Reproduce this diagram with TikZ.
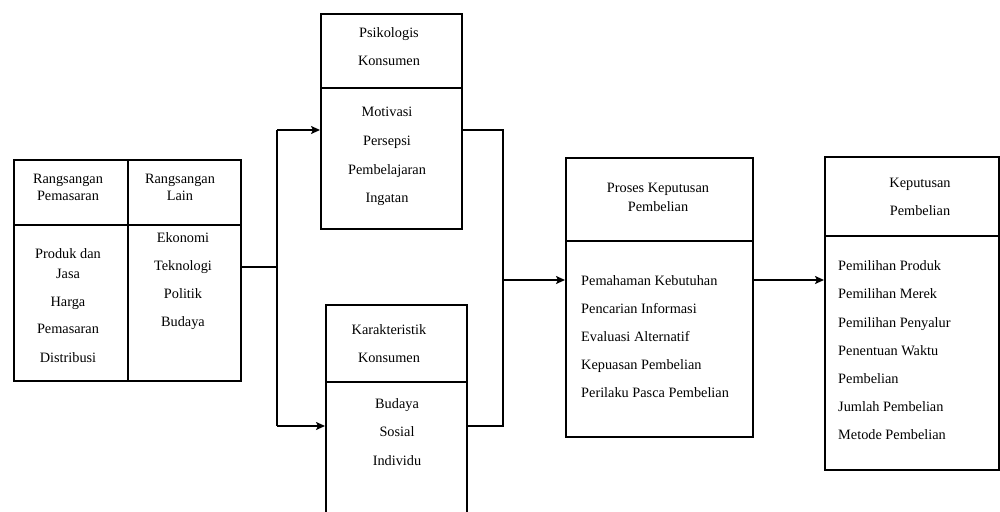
\documentclass[tikz,border=0pt]{standalone}
\usepackage{fontspec}
\setmainfont{Liberation Serif}
\usetikzlibrary{arrows.meta}
\begin{document}
\begin{tikzpicture}[x=1pt,y=-1pt,
  box/.style={draw,line width=1.7pt,anchor=north west,inner sep=0pt,minimum width=#1},
  lbl/.style={font=\fontsize{14.3}{17}\selectfont,align=center,inner sep=0pt},
  lst/.style={font=\fontsize{14.3}{17}\selectfont,align=left,anchor=west,inner sep=0pt},
  con/.style={line width=1.7pt},
  arr/.style={line width=1.7pt,-{Stealth[length=9pt,width=8pt,inset=2pt]}}]
\useasboundingbox (0,0) rectangle (1000,511);
\clip (0,0) rectangle (1000,511);
% boxes
\node[box=114pt,minimum height=65pt] (rpH) at (13,159) {};
\node[box=114pt,minimum height=156pt] (rpB) at (13,224) {};
\node[box=113pt,minimum height=65pt] (rlH) at (127,159) {};
\node[box=113pt,minimum height=156pt] (rlB) at (127,224) {};
\node[box=141pt,minimum height=74pt] (psH) at (320,13) {};
\node[box=141pt,minimum height=141pt] (psB) at (320,87) {};
\node[box=141pt,minimum height=77pt] (kkH) at (325,304) {};
\node[box=141pt,minimum height=150pt] (kkB) at (325,381) {};
\node[box=187pt,minimum height=83pt] (pkH) at (565,157) {};
\node[box=187pt,minimum height=196pt] (pkB) at (565,240) {};
\node[box=174pt,minimum height=79pt] (kpH) at (824,156) {};
\node[box=174pt,minimum height=234pt] (kpB) at (824,235) {};
% texts
\node[lbl] (t1) at (68,187) {Rangsangan\\Pemasaran};
\node[lbl] (t2) at (180,187) {Rangsangan\\Lain};
\node[lbl] (t3) at (68,306) {Produk dan\\[3pt]Jasa\\[11pt]Harga\\[10pt]Pemasaran\\[12pt]Distribusi};
\node[lbl] (t4) at (183,281) {Ekonomi\\[11pt]Teknologi\\[11pt]Politik\\[11pt]Budaya};
\node[lbl] (t5) at (389,47) {Psikologis\\[11pt]Konsumen};
\node[lbl] (t6) at (387,156) {Motivasi\\[12pt]Persepsi\\[12pt]Pembelajaran\\[11pt]Ingatan};
\node[lbl] (t7) at (389,344) {Karakteristik\\[11pt]Konsumen};
\node[lbl] (t8) at (397,432) {Budaya\\[11pt]Sosial\\[12pt]Individu};
\node[lbl] (t9) at (658,197) {Proses Keputusan\\[2pt]Pembelian};
\node[lst] (t10) at (581,337) {Pemahaman Kebutuhan\\[11pt]Pencarian Informasi\\[11pt]Evaluasi Alternatif\\[11pt]Kepuasan Pembelian\\[11pt]Perilaku Pasca Pembelian};
\node[lbl] (t11) at (920,197) {Keputusan\\[11pt]Pembelian};
\node[lst] (t12) at (838,350.5) {Pemilihan Produk\\[11pt]Pemilihan Merek\\[12pt]Pemilihan Penyalur\\[11pt]Penentuan Waktu\\[11pt]Pembelian\\[11pt]Jumlah Pembelian\\[11pt]Metode Pembelian};
% connectors
\coordinate (j1) at (277,267);
\coordinate (j1t) at (277,130);
\coordinate (j1b) at (277,426);
\coordinate (j2t) at (503,130);
\coordinate (j2b) at (503,426);
\coordinate (j2m) at (503,280);
\draw[con] (rlB.east |- j1) -- (j1);
\draw[con] (j1t) -- (j1b);
\draw[arr] (j1t) -- (j1t -| psB.west);
\draw[arr] (j1b) -- (j1b -| kkB.west);
\draw[con] (psB.east |- j2t) -- (j2t) -- (j2b) -- (kkB.east |- j2b);
\draw[arr] (j2m) -- (j2m -| pkB.west);
\draw[arr] (pkB.east |- j2m) -- (kpB.west |- j2m);
\end{tikzpicture}
\end{document}
